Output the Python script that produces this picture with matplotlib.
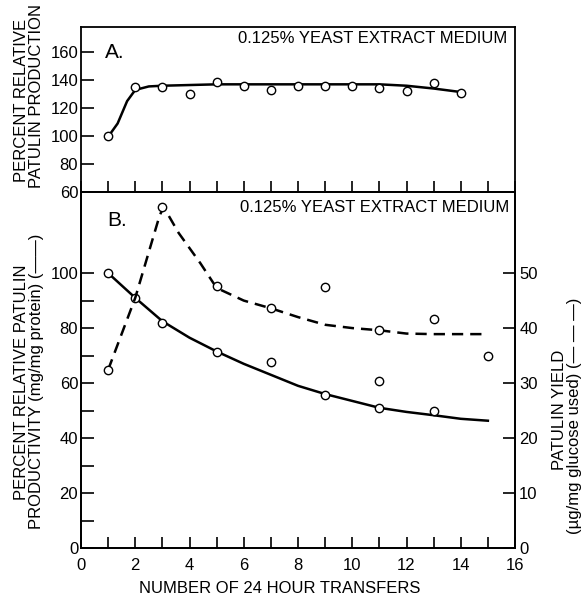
import numpy as np
import matplotlib
matplotlib.use('Agg')
import matplotlib.pyplot as plt

plt.rcParams['font.family'] = ['Liberation Sans', 'DejaVu Sans']
plt.rcParams['font.size'] = 12

# panel A: patulin production (percent relative)
a_x = [1, 2, 3, 4, 5, 6, 7, 8, 9, 10, 11, 12, 13, 14]
a_y = [100, 135, 135, 130, 138.5, 136, 133, 136, 136, 136, 134.5, 132, 138, 130.5]
a_curve_x = [1, 1.35, 1.7, 2.0, 2.5, 3, 4, 5, 6, 7, 8, 9, 10, 11, 12, 13, 14]
a_curve_y = [99.5, 109, 125, 133, 135.5, 136, 136.5, 137, 137, 137, 137, 137, 137, 137, 136, 134, 131.5]

# panel B: productivity (left axis, solid)
prod_x = [1, 2, 3, 5, 7, 9, 11, 11, 13]
prod_y = [100, 91, 82, 71.3, 67.6, 55.6, 60.7, 51, 49.8]
prod_curve_x = [1, 2, 3, 4, 5, 6, 7, 8, 9, 10, 11, 12, 13, 14, 15]
prod_curve_y = [100, 91, 82.5, 76.5, 71.5, 67, 63, 59, 56, 53.5, 51, 49.5, 48.3, 47, 46.3]

# panel B: yield (right axis, dashed)
yield_x = [1, 3, 5, 7, 9, 11, 13, 15]
yield_y = [32.4, 62, 47.6, 43.6, 47.5, 39.6, 41.6, 34.9]
yield_curve_x = [1, 2, 2.9, 3.05, 3.6, 4.4, 5, 6, 7, 8, 9, 10, 11, 12, 13, 14, 14.8]
yield_curve_y = [32.4, 45.5, 60.5, 62, 57.3, 51.8, 47.3, 45, 43.6, 42, 40.6, 40, 39.6, 39, 38.9, 38.9, 38.9]

W, H = 583, 597
fig = plt.figure(figsize=(W / 100, H / 100), dpi=100)
L, R = 81, 515
axA = fig.add_axes([L / W, 1 - 192 / H, (R - L) / W, 165 / H])
axB = fig.add_axes([L / W, 1 - 548 / H, (R - L) / W, 356 / H])
axB2 = axB.twinx()

for ax in (axA, axB, axB2):
    for s in ax.spines.values():
        s.set_linewidth(1.3)

mk = dict(marker='o', ms=6, mfc='white', mec='black', mew=1.0, ls='none', zorder=5)

# --- A ---
axA.plot(a_curve_x, a_curve_y, color='black', lw=1.8)
axA.plot(a_x, a_y, **mk)
axA.set_xlim(0, 16)
axA.set_ylim(60, 178)
axA.set_yticks(range(60, 161, 20))
axA.set_xticks(range(0, 17, 2))
axA.set_xticks(range(1, 16, 2), minor=True)
axA.tick_params(axis='x', which='both', direction='in', length=8, width=1.2, labelbottom=False)
axA.tick_params(axis='y', direction='in', length=9, width=1.2, pad=2, labelsize=12)
axA.text(0.9, 160, 'A.', fontsize=15, va='center', ha='left')
axA.text(15.7, 170, '0.125% YEAST EXTRACT MEDIUM', fontsize=12, va='center', ha='right')

# --- B ---
axB.plot(prod_curve_x, prod_curve_y, color='black', lw=1.8)
axB.plot(prod_x, prod_y, **mk)
axB.set_xlim(0, 16)
axB.set_ylim(0, 129.5)
axB.set_yticks(range(0, 101, 20))
axB.set_yticks(range(10, 100, 20), minor=True)
axB.set_xticks(range(0, 17, 2))
axB.set_xticks(range(1, 16, 2), minor=True)
axB.tick_params(axis='x', which='both', direction='in', length=8, width=1.2, pad=7, labelsize=12)
axB.tick_params(axis='y', which='both', direction='in', length=9, width=1.2, pad=2, labelsize=12)
axB.text(0.95, 119, 'B.', fontsize=15, va='center', ha='left')
axB.text(15.8, 124, '0.125% YEAST EXTRACT MEDIUM', fontsize=12, va='center', ha='right')

dl, = axB2.plot(yield_curve_x, yield_curve_y, color='black', lw=1.8)
dl.set_dashes((4.5, 2.8))
axB2.plot(yield_x, yield_y, **mk)
axB2.set_ylim(0, 64.75)
axB2.set_yticks(range(0, 51, 10))
axB2.tick_params(axis='y', direction='in', length=9, width=1.2, pad=3, labelsize=12)

# labels
fig.text(22 / W, 1 - 100 / H, 'PERCENT RELATIVE', rotation=90, ha='center', va='center', fontsize=12)
fig.text(37 / W, 1 - 96 / H, 'PATULIN PRODUCTION', rotation=90, ha='center', va='center', fontsize=12)
fig.text(22 / W, 1 - 382 / H, 'PERCENT RELATIVE PATULIN', rotation=90, ha='center', va='center', fontsize=12)
fig.text(37 / W, 1 - 381 / H, 'PRODUCTIVITY (mg/mg protein) (\u2014\u2014)', rotation=90,
         ha='center', va='center', fontsize=12)
fig.text(559 / W, 1 - 410 / H, 'PATULIN YIELD', rotation=90, ha='center', va='center', fontsize=12)
fig.text(574 / W, 1 - 416 / H, '(\u00b5g/mg glucose used) (\u2014 \u2014 \u2014)', rotation=90,
         ha='center', va='center', fontsize=12)
fig.text(280 / W, 1 - 596 / H, 'NUMBER OF 24 HOUR TRANSFERS', ha='center', va='bottom', fontsize=12)

fig.savefig('out.png', dpi=100)
